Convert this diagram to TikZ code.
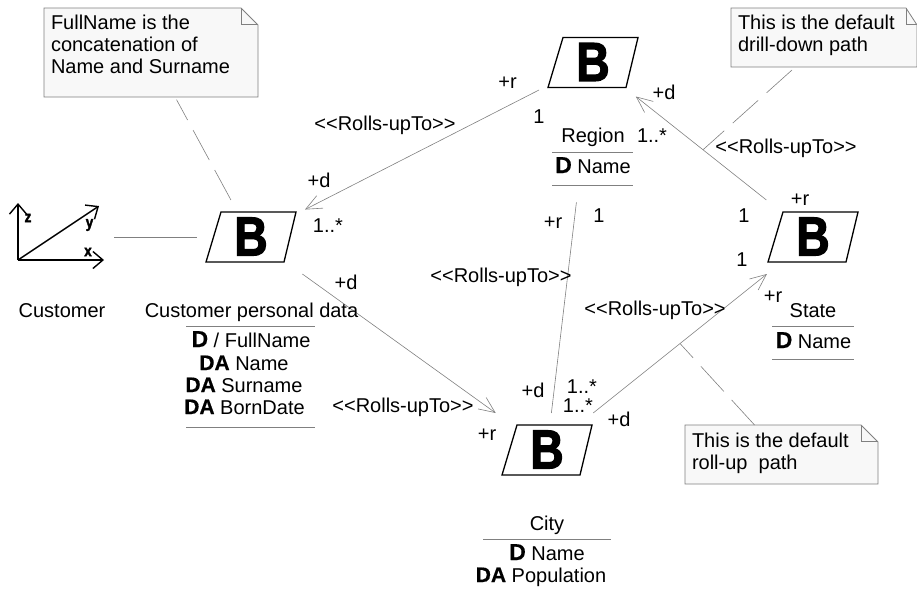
\documentclass[tikz,border=0pt]{standalone}
\usepackage{fontspec}
\setmainfont{Liberation Sans}
\newfontfamily\boldfam[FakeBold=0.6]{Liberation Sans Bold}
\newfontfamily\heavyfam[FakeBold=2.2,FakeStretch=0.84]{Liberation Sans Bold}
\usetikzlibrary{arrows.meta,calc}
\definecolor{linegrey}{HTML}{808080}
\definecolor{notefill}{HTML}{F8F8F8}
\newcommand{\bigD}{{\boldfam\fontsize{23}{23}\selectfont D}}
\newcommand{\bigDA}{{\boldfam\fontsize{21}{21}\selectfont DA}}
\newcommand{\bdimnode}[4][74]{%
  \draw[bshape] ($(#3,#4)+(-30,-25)$) -- ($(#3,#4)+(45,-25)$) -- ($(#3,#4)+(33,25)$) -- ($(#3,#4)+(-45,25)$) -- cycle;
  \node[bnode,minimum height=#1pt] (#2) at (#3,#4) {\raisebox{1pt}{B}};}
\newcommand{\notebody}[7]{%
  \draw[noteshape] (#3,#4) -- (#5-#7,#4) -- (#5,#4+17) -- (#5,#6) -- (#3,#6) -- cycle;
  \draw[noteshape,fill=none] (#5-#7,#4) -- (#5-#7,#4+16.5) -- (#5,#4+16.5);
  \node[notetext] (#1) at ({(#3+#5)/2},{(#4+#6)/2}) {\parbox[c][\dimexpr#6pt-#4pt\relax][t]{\dimexpr#5pt-#3pt\relax}{\leftskip=7pt\parindent=0pt #2}};}
\tikzset{
  every node/.style={font=\fontsize{20}{22}\selectfont},
  lab/.style={anchor=base,inner sep=0pt,outer sep=0pt},
  bshape/.style={draw=black,line width=1.3pt,fill=white,miter limit=10},
  bnode/.style={rectangle,minimum width=108pt,inner sep=0pt,outer sep=0pt,font=\heavyfam\fontsize{55}{55}\selectfont},
  assoc/.style={draw=linegrey,line width=.6pt},
  arrowed/.style={assoc,-{Straight Barb[length=16pt,width=14pt,line width=.6pt]}},
  notelink/.style={assoc,dash pattern=on 34pt off 11.5pt},
  noteshape/.style={draw=linegrey,line width=.8pt,fill=notefill},
  notetext/.style={rectangle,inner sep=0pt,outer sep=0pt},
  axisline/.style={draw=black,line width=1.4pt,-{Straight Barb[length=10pt,width=17pt,line width=1.4pt]}},
  axislab/.style={inner sep=0pt,font=\heavyfam\fontsize{16}{16}\selectfont},
  dimbox/.style={rectangle,minimum width=106pt,minimum height=58pt,inner sep=0pt,outer sep=0pt}
}
\begin{document}
\begin{tikzpicture}[x=1pt,y=-1pt]
\useasboundingbox (0,0) rectangle (917,592);

% bottom-layer notes
\notebody{note1}{\rule{0pt}{21pt}FullName is the\\concatenation of\\Name and Surname}{44}{8}{258}{97}{17}
\notebody{note2}{\rule{0pt}{21pt}This is the default\\drill-down path}{731}{8}{917}{67}{11}
\notebody{note3}{\rule{0pt}{22pt}This is the default\\roll-up\ \ path}{685}{425}{878}{484}{17}

% dimension icon
\node[dimbox] (dim) at (61,237) {};
\coordinate (orig) at (18,260);
\coordinate (ztip) at (18,203);
\coordinate (ytip) at (99,206);
\coordinate (xtip) at (104,260);
\draw[axisline] (orig) -- (ztip);
\draw[axisline] (orig) -- (ytip);
\draw[axisline] (orig) -- (xtip);
\node[axislab] (zlab) at (28,218) {z};
\node[axislab] (ylab) at (89.5,225) {y};
\node[axislab] (xlab) at (88,252) {x};

% hierarchies
\bdimnode{cust}{251}{237}
\bdimnode[68]{region}{593}{62.5}
\bdimnode{city}{547}{450}
\bdimnode{state}{813}{237}

% connectors
\coordinate (m1) at ($(city)!.5!(state)$);
\coordinate (m2) at ($(state)!.5!(region)$);
\draw[assoc] (dim) -- (cust);
\draw[arrowed] (region) -- (cust);
\draw[arrowed] (cust) -- (city);
\draw[assoc,shorten >=106.5pt] (city) -- (region);
\draw[arrowed] (city) -- (state);
\draw[arrowed] (state) -- (region);
\draw[notelink,shorten >=3pt] (cust) -- (note1);
\draw[notelink] ($(note2.south)+(-32,3)$) -- (m2);
\draw[notelink] (note3) -- (m1);

% customer labels
\node[lab] (customer) at (62,317) {Customer};
\node[lab] (custname) at (251.5,317) {Customer personal data};
\draw[assoc] (186,326) coordinate (cr1a) -- (315,326) coordinate (cr1b);
\node[lab] (ca1) at (251,347) {\bigD{} / FullName};
\node[lab] (ca2) at (244,370) {\bigDA{} Name};
\node[lab] (ca3) at (244,392) {\bigDA{} Surname};
\node[lab] (ca4) at (244.5,414) {\bigDA{} BornDate};
\draw[assoc] (186,427) coordinate (cr2a) -- (315,427) coordinate (cr2b);

% region
\node[lab] (regname) at (593,142) {Region};
\draw[assoc] (552,152) coordinate (rr1a) -- (633,152) coordinate (rr1b);
\node[lab] (ra1) at (593,173) {\bigD{} Name};
\draw[assoc] (552,185) coordinate (rr2a) -- (633,185) coordinate (rr2b);

% state
\node[lab] (statename) at (813,317) {State};
\draw[assoc] (772,326) coordinate (sr1a) -- (854,326) coordinate (sr1b);
\node[lab] (sa1) at (813.5,348) {\bigD{} Name};
\draw[assoc] (772,359) coordinate (sr2a) -- (854,359) coordinate (sr2b);

% city
\node[lab] (cityname) at (547,530) {City};
\draw[assoc] (483,539) coordinate (yr1a) -- (611,539) coordinate (yr1b);
\node[lab] (ya1) at (547,560) {\bigD{} Name};
\node[lab] (ya2) at (541,582) {\bigDA{} Population};

% association labels
\node[lab] (la1) at (507.5,88) {+r};
\node[lab] (la2) at (539,123) {1};
\node[lab] (la3) at (385,130) {<{}<Rolls-upTo>{}>};
\node[lab] (la4) at (319,187) {+d};
\node[lab] (la5) at (328,232) {1..*};
\node[lab] (lb1) at (553,228) {+r};
\node[lab] (lb2) at (599,222) {1};
\node[lab] (lb3) at (501,282) {<{}<Rolls-upTo>{}>};
\node[lab] (lb4) at (533,397) {+d};
\node[lab] (lb5) at (582,393) {1..*};
\node[lab] (lc1) at (346,289) {+d};
\node[lab] (lc2) at (403,412) {<{}<Rolls-upTo>{}>};
\node[lab] (lc3) at (487,440) {+r};
\node[lab] (ld1) at (578,412) {1..*};
\node[lab] (ld2) at (619,426) {+d};
\node[lab] (ld3) at (655,315) {<{}<Rolls-upTo>{}>};
\node[lab] (ld4) at (742,266) {1};
\node[lab] (ld5) at (773,302) {+r};
\node[lab] (le1) at (744,222) {1};
\node[lab] (le2) at (800,205) {+r};
\node[lab] (le3) at (786,153) {<{}<Rolls-upTo>{}>};
\node[lab] (le4) at (664,99) {+d};
\node[lab] (le5) at (652,142) {1..*};
\end{tikzpicture}
\end{document}
